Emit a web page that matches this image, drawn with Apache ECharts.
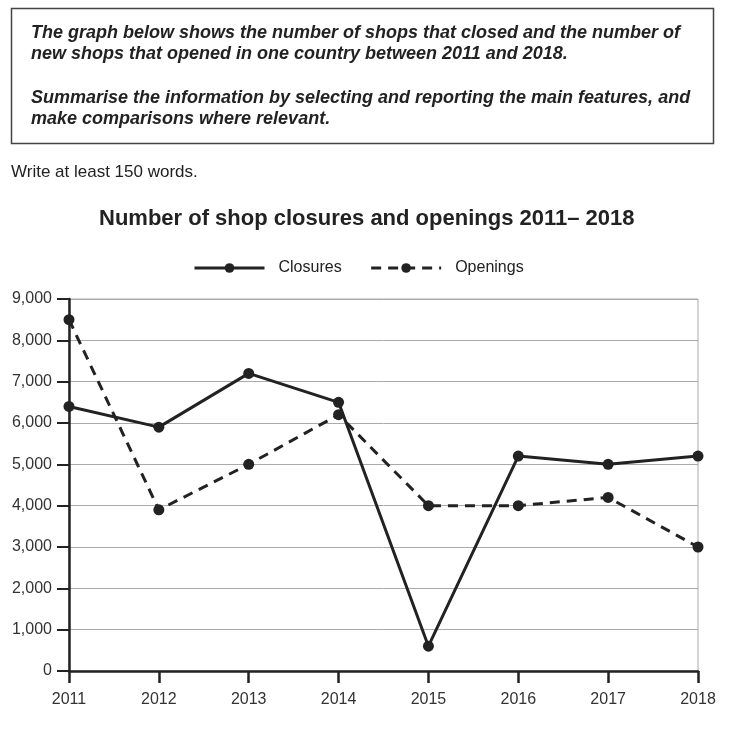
<!DOCTYPE html>
<html>
<head>
<meta charset="utf-8">
<script src="https://cdn.jsdelivr.net/npm/echarts@6/dist/echarts.min.js"></script>
<style>
  html, body { margin: 0; padding: 0; background: #fff; }
  #main { width: 740px; height: 743px; }
</style>
</head>
<body>
<div id="main"></div>
<script>
// Données du graphique
const years = ["2011", "2012", "2013", "2014", "2015", "2016", "2017", "2018"];
const closures = [6400, 5900, 7200, 6500, 600, 5200, 5000, 5200];
const openings = [8500, 3900, 5000, 6200, 4000, 4000, 4200, 3000];
const taskLines = [
  "The graph below shows the number of shops that closed and the number of",
  "new shops that opened in one country between 2011 and 2018.",
  "Summarise the information by selecting and reporting the main features, and",
  "make comparisons where relevant."
];

const chart = echarts.init(document.getElementById("main"));
const font = "'Liberation Sans', Arial, sans-serif";
const ink = "#222";

const option = {
  backgroundColor: "#fff",
  textStyle: { fontFamily: font },
  title: {
    text: "Number of shop closures and openings 2011\u2013 2018",
    left: 94,
    top: 203,
    textStyle: { fontSize: 22, fontWeight: "bold", color: ink, fontFamily: font }
  },
  legend: {
    top: 255,
    left: 188,
    itemWidth: 70,
    itemHeight: 12,
    itemGap: 28,
    lineStyle: { width: 3 },
    textStyle: { fontSize: 16, color: ink, fontFamily: font, padding: [0, 0, 0, 9] },
    data: ["Closures", "Openings"]
  },
  grid: {
    left: 69, right: 42, top: 299, bottom: 72,
    show: true, borderColor: "#aaa", borderWidth: 1
  },
  xAxis: {
    type: "category",
    data: years,
    boundaryGap: false,
    axisLine: { lineStyle: { color: ink, width: 2.5 } },
    axisTick: { length: 12, lineStyle: { color: ink, width: 2.5 } },
    axisLabel: { fontSize: 16, color: "#333", margin: 21, fontFamily: font }
  },
  yAxis: {
    type: "value",
    min: 0, max: 9000, interval: 1000,
    axisLine: { show: true, lineStyle: { color: ink, width: 2.5 } },
    axisTick: { show: true, length: 12, lineStyle: { color: ink, width: 2 } },
    axisLabel: {
      fontSize: 16, color: "#333", margin: 17, fontFamily: font,
      formatter: (v) => v.toLocaleString("en-US")
    },
    splitLine: { lineStyle: { color: "#aaa", width: 1 } }
  },
  series: [
    {
      name: "Closures",
      type: "line",
      data: closures,
      symbol: "circle",
      symbolSize: 11,
      itemStyle: { color: ink },
      lineStyle: { color: ink, width: 3 }
    },
    {
      name: "Openings",
      type: "line",
      data: openings,
      symbol: "circle",
      symbolSize: 11,
      itemStyle: { color: ink },
      lineStyle: { color: ink, width: 3, type: [10, 7] }
    }
  ],
  graphic: [
    {
      type: "rect",
      shape: { x: 11.5, y: 8.5, width: 702, height: 135 },
      style: { fill: "none", stroke: "#444", lineWidth: 1.5 }
    },
    ...taskLines.map((t, i) => ({
      type: "text",
      left: 31,
      top: [24, 45, 89, 110][i],
      style: {
        text: t,
        fill: ink,
        font: "italic bold 18px " + font
      }
    })),
    {
      type: "text",
      left: 11,
      top: 164,
      style: { text: "Write at least 150 words.", fill: ink, font: "17px " + font }
    }
  ]
};

chart.setOption(option);
</script>
</body>
</html>
